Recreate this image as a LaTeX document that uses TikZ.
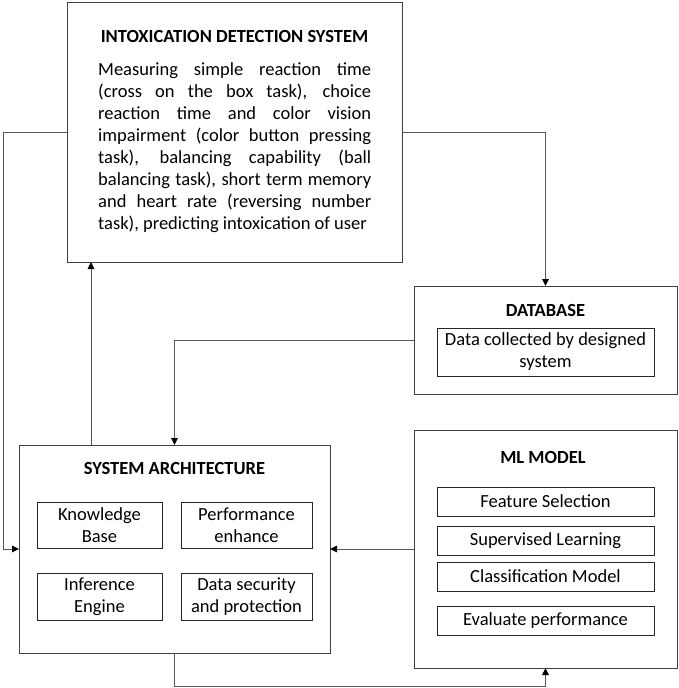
\documentclass[tikz,border=0pt]{standalone}
\usepackage{fontspec}
\setmainfont{Carlito}
\usetikzlibrary{arrows.meta,calc}
\begin{document}
\begin{tikzpicture}[x=1pt,y=-1pt,
  box/.style={draw=black!75,line width=0.9pt,anchor=north west,inner sep=0pt,outer sep=0pt},
  inbox/.style={draw=black!85,line width=0.8pt,anchor=north west,inner sep=0pt,outer sep=0pt,align=center,font=\fontsize{18.5}{22}\selectfont},
  ttl/.style={font=\fontsize{18.5}{20}\selectfont\bfseries,anchor=center},
  conn/.style={draw=black!65,line width=1pt},
  arr/.style={conn,-{Triangle[length=7pt,width=6.5pt,fill=black,color=black]}}]
\useasboundingbox (0,0) rectangle (679,688);
% top box
\node[box,minimum width=335,minimum height=260] (top) at (67,2) {};
\node[ttl] (toptitle) at (234.5,36) {INTOXICATION DETECTION SYSTEM};
\node[anchor=north west,inner sep=0pt,text width=273pt,align=justify,font=\fontsize{18.5}{22}\selectfont] (toptext) at (98,62)
 {Measuring simple reaction time\linebreak (cross on the box task), choice\linebreak reaction time and color vision\linebreak impairment (color button pressing\linebreak task), balancing capability (ball\linebreak balancing task), short term memory\linebreak and heart rate (reversing number\linebreak task), predicting intoxication of user};
% database
\node[box,minimum width=263,minimum height=108] (db) at (414,286) {};
\node[ttl] (dbtitle) at (545.5,310) {DATABASE};
\node[inbox,minimum width=217,minimum height=48] (dbin) at (437,328) {Data collected by designed\\system};
% system architecture
\node[box,minimum width=311,minimum height=208] (sys) at (19,445) {};
\node[ttl] (systitle) at (174.5,468) {SYSTEM ARCHITECTURE};
\node[inbox,minimum width=125,minimum height=46] (kb) at (37,502) {Knowledge\\Base};
\node[inbox,minimum width=131,minimum height=46] (pe) at (181,502) {Performance\\enhance};
\node[inbox,minimum width=125,minimum height=47] (ie) at (37,573) {Inference\\Engine};
\node[inbox,minimum width=131,minimum height=47] (ds) at (181,573) {Data security\\and protection};
% ML model
\node[box,minimum width=263,minimum height=238] (ml) at (414,430) {};
\node[ttl] (mltitle) at (543,457) {ML MODEL};
\node[inbox,minimum width=217,minimum height=29] (fs) at (437,487) {Feature Selection};
\node[inbox,minimum width=217,minimum height=29] (sl) at (437,526) {Supervised Learning};
\node[inbox,minimum width=217,minimum height=29] (cm) at (437,562) {Classification Model};
\node[inbox,minimum width=217,minimum height=29] (ep) at (437,606) {Evaluate performance};
% connectors
\coordinate (lft) at (3,0);
\coordinate (sysup) at ($(sys.north west)+(72,0)$);
\coordinate (bot) at (0,686);
\draw[arr] (top.west) -- (top.west -| lft) |- (sys.west);
\draw[arr] (top.east) -| (db.north);
\draw[arr] (db.west) -| (sys.north);
\draw[arr] (ml.west) -- (sys.east);
\draw[arr] (sysup) -- (sysup |- top.south);
\draw[arr] (sys.south) -- (sys.south |- bot) -| (ml.south);
\end{tikzpicture}
\end{document}
